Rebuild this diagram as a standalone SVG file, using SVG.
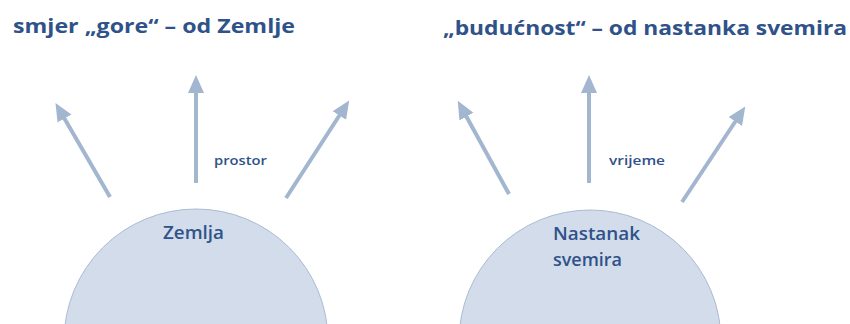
<svg xmlns="http://www.w3.org/2000/svg" width="850" height="324" viewBox="0 0 850 324">
<style>
.t{font-family:"Open Sans","Noto Sans","Liberation Sans",sans-serif;fill:#2f5289}
.title{font-size:20px;font-weight:bold}
.lab{font-size:13px;font-weight:600}
.nl{font-size:18px;font-weight:600}
.arr{stroke:#a3b6d0;stroke-width:4;fill:none;marker-end:url(#ah)}
.ball{fill:#d2dcea;stroke:#aabbd2;stroke-width:1}
</style>
<defs>
<marker id="ah" markerUnits="userSpaceOnUse" markerWidth="18" markerHeight="18" viewBox="0 0 18 18" refX="3" refY="9" orient="auto">
<path d="M0,1 L18,9 L0,17 Z" fill="#a3b6d0"/>
</marker>
</defs>
<rect width="850" height="324" fill="#ffffff"/>
<g id="title-left"><text class="t title" x="13" y="33" textLength="282" lengthAdjust="spacingAndGlyphs">smjer „gore“ – od Zemlje</text></g>
<g id="title-right"><text class="t title" x="443" y="35" textLength="404" lengthAdjust="spacingAndGlyphs">„budućnost“ – od nastanka svemira</text></g>
<g id="connectors">
<line class="arr" x1="110" y1="197" x2="63" y2="116"/>
<line class="arr" x1="196" y1="183" x2="196" y2="90"/>
<line class="arr" x1="286" y1="198" x2="341" y2="113"/>
<line class="arr" x1="509" y1="194" x2="465" y2="114"/>
<line class="arr" x1="589" y1="183" x2="589" y2="90"/>
<line class="arr" x1="682" y1="202" x2="737" y2="119"/>
</g>
<g id="node-zemlja">
<circle class="ball" cx="196" cy="341" r="132"/>
<text class="t nl" x="163" y="239" textLength="61" lengthAdjust="spacingAndGlyphs">Zemlja</text>
</g>
<g id="node-nastanak">
<circle class="ball" cx="590" cy="341" r="131"/>
<text class="t nl" x="553" y="240" textLength="87" lengthAdjust="spacingAndGlyphs">Nastanak</text>
<text class="t nl" x="553" y="266" textLength="69" lengthAdjust="spacingAndGlyphs">svemira</text>
</g>
<g id="label-prostor"><text class="t lab" x="214" y="165" textLength="53" lengthAdjust="spacingAndGlyphs">prostor</text></g>
<g id="label-vrijeme"><text class="t lab" x="609" y="165" textLength="56" lengthAdjust="spacingAndGlyphs">vrijeme</text></g>
</svg>
